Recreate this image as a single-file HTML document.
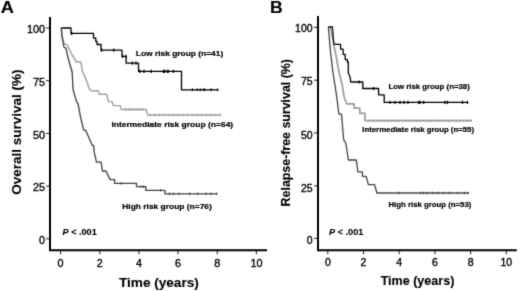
<!DOCTYPE html>
<html lang="en"><head><meta charset="utf-8"><title>Survival curves</title>
<style>html,body{margin:0;padding:0;background:#fff;}body{width:520px;height:291px;overflow:hidden;}</style>
</head><body>
<svg width="520" height="291" viewBox="0 0 520 291" style="display:block">
<defs><filter id="soft" x="0" y="0" width="520" height="291" filterUnits="userSpaceOnUse"><feConvolveMatrix order="3" kernelMatrix="0.0169 0.0962 0.0169 0.0962 0.5476 0.0962 0.0169 0.0962 0.0169" divisor="1" edgeMode="duplicate" preserveAlpha="false"/></filter></defs>
<rect width="520" height="291" fill="#fff"/>
<g filter="url(#soft)">
<path d="M50,17V250.3H267" fill="none" stroke="#000" stroke-width="2" stroke-linejoin="miter"/><path d="M60.6,251V254.2M99.8,251V254.2M138.9,251V254.2M178.0,251V254.2M217.2,251V254.2M256.4,251V254.2" stroke="#222" stroke-width="1" fill="none"/><path d="M49,28.0h-3M49,80.7h-3M49,133.4h-3M49,186.1h-3M49,238.8h-3" stroke="#222" stroke-width="1" fill="none"/>
<path d="M318,16V250.3H516.8" fill="none" stroke="#000" stroke-width="2" stroke-linejoin="miter"/><path d="M327.8,251V254.2M363.5,251V254.2M399.2,251V254.2M434.9,251V254.2M470.6,251V254.2M506.3,251V254.2" stroke="#222" stroke-width="1" fill="none"/><path d="M317,27.3h-3M317,80.2h-3M317,132.9h-3M317,185.9h-3M317,238.3h-3" stroke="#222" stroke-width="1" fill="none"/>
<g font-family="'Liberation Sans', sans-serif" font-size="10.8" fill="#000" stroke="#000" stroke-width="0.35">
<text x="60.6" y="266.7" text-anchor="middle">0</text>
<text x="99.8" y="266.7" text-anchor="middle">2</text>
<text x="138.9" y="266.7" text-anchor="middle">4</text>
<text x="178.0" y="266.7" text-anchor="middle">6</text>
<text x="217.2" y="266.7" text-anchor="middle">8</text>
<text x="256.4" y="266.7" text-anchor="middle">10</text>
<text x="45" y="33.3" text-anchor="end">100</text>
<text x="45" y="86.0" text-anchor="end">75</text>
<text x="45" y="138.7" text-anchor="end">50</text>
<text x="45" y="191.4" text-anchor="end">25</text>
<text x="45" y="244.1" text-anchor="end">0</text>
</g>
<g font-family="'Liberation Sans', sans-serif" font-size="10.5" fill="#000" stroke="#000" stroke-width="0.35">
<text x="327.8" y="265.8" text-anchor="middle">0</text>
<text x="363.5" y="265.8" text-anchor="middle">2</text>
<text x="399.2" y="265.8" text-anchor="middle">4</text>
<text x="434.9" y="265.8" text-anchor="middle">6</text>
<text x="470.6" y="265.8" text-anchor="middle">8</text>
<text x="506.3" y="265.8" text-anchor="middle">10</text>
<text x="312.6" y="32.3" text-anchor="end">100</text>
<text x="312.6" y="85.3" text-anchor="end">75</text>
<text x="312.6" y="138.6" text-anchor="end">50</text>
<text x="312.6" y="191.6" text-anchor="end">25</text>
<text x="312.6" y="244.0" text-anchor="end">0</text>
</g>
<g font-family="'Liberation Sans', sans-serif" font-weight="bold" fill="#000" stroke="#000" stroke-width="0.12">
<text transform="translate(0.7,13) scale(1.12,1)" font-size="16.3">A</text>
<text transform="translate(270,13) scale(1.08,1)" font-size="16.3">B</text>
<text x="158.9" y="287.2" font-size="13.6" text-anchor="middle">Time (years)</text>
<text x="417.5" y="285" font-size="12.55" text-anchor="middle">Time (years)</text>
<text transform="translate(21.4,132.1) rotate(-90)" font-size="13.5" text-anchor="middle">Overall survival (%)</text>
<text transform="translate(290.3,132.7) rotate(-90)" font-size="12.4" text-anchor="middle">Relapse-free survival (%)</text>
<text x="62.5" y="235.4" font-size="9.15"><tspan font-style="italic">P</tspan> &lt; .001</text>
<text x="329.1" y="235.4" font-size="9.15"><tspan font-style="italic">P</tspan> &lt; .001</text>
<g font-size="8.1" stroke="#000" stroke-width="0.22">
<text x="135.8" y="55.8" textLength="87.4" lengthAdjust="spacingAndGlyphs">Low risk group (n=41)</text>
<text x="111.4" y="127.3" textLength="121.8" lengthAdjust="spacingAndGlyphs">Intermediate risk group (n=64)</text>
<text x="122.3" y="209.2" textLength="89.5" lengthAdjust="spacingAndGlyphs">High risk group (n=76)</text>
</g>
<g font-size="7.3" stroke="#000" stroke-width="0.2">
<text x="388.4" y="89.3" textLength="81.4" lengthAdjust="spacingAndGlyphs">Low risk group (n=38)</text>
<text x="362.3" y="132.4" textLength="111.7" lengthAdjust="spacingAndGlyphs">Intermediate risk group (n=55)</text>
<text x="388.5" y="206.6" textLength="82.8" lengthAdjust="spacingAndGlyphs">High risk group (n=53)</text>
</g>
</g>
<path d="M61.3,28L62,36L64.3,44L67,44.6L72.2,55L76.5,62H80.8L82.5,71.3L86.8,81.6L87.7,83.4L88.6,87.7L91.4,90.8H98.2L99.3,94.2H106.5L108.6,101.6H112L113.4,105.6H120.2L121.3,109.4H146.1L147.8,115H220.5" fill="none" stroke="#a0a0a0" stroke-width="1.45" stroke-linejoin="round"/><path d="M125.5,108.0V110.8M128.5,108.0V110.8M131.0,108.0V110.8M134.0,108.0V110.8M137.0,108.0V110.8M140.0,108.0V110.8M143.0,108.0V110.8M150.0,113.6V116.4M154.7,113.6V116.4M159.4,113.6V116.4M164.1,113.6V116.4M168.8,113.6V116.4M173.5,113.6V116.4M178.2,113.6V116.4M182.9,113.6V116.4M187.6,113.6V116.4M192.3,113.6V116.4M197.0,113.6V116.4M201.7,113.6V116.4M206.4,113.6V116.4M211.1,113.6V116.4M215.8,113.6V116.4M220.5,113.6V116.4" fill="none" stroke="#a0a0a0" stroke-width="1.0"/>
<path d="M61.3,28L61.9,36L63.9,47L66,48.4L67.4,55L70.1,65L72.2,72.2L73,89.4L76.5,101.4L78,103.6L80.6,117.3L83.7,130.2L85.8,130.5L92.2,145.3H93.5L94.2,152.2L96.5,162.1H101.1L102.5,171H105.9L110.2,179.6H114.6V183.4H136.5V186.6H145.8V190.3H165V193.8H217.3" fill="none" stroke="#444" stroke-width="1.35" stroke-linejoin="round"/><path d="M121.5,182.1V184.7M141.0,185.3V187.9M143.5,185.3V187.9M160.8,189.0V191.6M169.5,192.5V195.1M173.5,192.5V195.1M178.8,192.5V195.1M189.6,192.5V195.1M197.7,192.5V195.1M205.8,192.5V195.1M211.0,192.5V195.1M216.6,192.5V195.1" fill="none" stroke="#444" stroke-width="1.0"/>
<path d="M61.3,28H71V33.3H93.5V38.2H95.8V41.4H97V44.5H101V50.2H122V56.3H126.1V63.2H138.5V71.4H181.5V89.8H218.2" fill="none" stroke="#000" stroke-width="1.3" stroke-linejoin="round"/><path d="M71.6,31.7V34.9M101.6,48.6V51.8M113.8,48.6V51.8M122.6,54.7V57.9M126.0,54.7V57.9M132.3,61.6V64.8M136.0,61.6V64.8M139.9,69.8V73.0M144.0,69.8V73.0M151.2,69.8V73.0M163.5,69.8V73.0M164.6,69.8V73.0M167.4,69.8V73.0M168.2,69.8V73.0M173.4,69.8V73.0M192.5,88.5V91.1M197.3,88.5V91.1M200.3,88.5V91.1M203.6,88.5V91.1M204.6,88.5V91.1M211.2,88.5V91.1M217.6,88.5V91.1" fill="none" stroke="#000" stroke-width="1.3"/>
<path d="M330.5,27L333.8,45L336.3,57L338,67.2L339.7,75L342.3,85.2L344,96.5L346.6,103.8H354V108.1H359.8V113.3H365V120.7H472" fill="none" stroke="#9c9c9c" stroke-width="1.7" stroke-linejoin="round"/><path d="M370.0,119.4V122.0M373.6,119.4V122.0M377.2,119.4V122.0M380.8,119.4V122.0M384.4,119.4V122.0M388.0,119.4V122.0M391.6,119.4V122.0M395.2,119.4V122.0M398.8,119.4V122.0M402.4,119.4V122.0M406.0,119.4V122.0M409.6,119.4V122.0M413.2,119.4V122.0M416.8,119.4V122.0M420.4,119.4V122.0M424.0,119.4V122.0M427.6,119.4V122.0M431.2,119.4V122.0M434.8,119.4V122.0M438.4,119.4V122.0M442.0,119.4V122.0M445.6,119.4V122.0M449.2,119.4V122.0M452.8,119.4V122.0M456.4,119.4V122.0M460.0,119.4V122.0M463.6,119.4V122.0M467.2,119.4V122.0M470.8,119.4V122.0" fill="none" stroke="#9c9c9c" stroke-width="1.1"/>
<path d="M328.4,27L330.3,50L332.8,71.3L336.5,95L338.9,114.2H341.5L343.6,139.3L346,144L348.3,160H356.3L358,171.8H362.4V176.3H366.2L368.4,184.6H374.6L376.9,193H468.8" fill="none" stroke="#444" stroke-width="1.3" stroke-linejoin="round"/><path d="M398.8,191.7V194.3M420.3,191.7V194.3M423.5,191.7V194.3M427.2,191.7V194.3M432.8,191.7V194.3M438.0,191.7V194.3M443.4,191.7V194.3M449.6,191.7V194.3M457.7,191.7V194.3M464.6,191.7V194.3M468.3,191.7V194.3" fill="none" stroke="#444" stroke-width="1.0"/>
<path d="M328.2,27H332.4L333.1,36L334,44.4H340.6V49.2H343.1V54.3H345.2V59.6H347.4V62H348.3V73L350,76.8L350.8,82H362.8V88.5H378.6V94.8H384.2V102.4H468" fill="none" stroke="#000" stroke-width="1.3" stroke-linejoin="round"/><path d="M359.0,80.4V83.6M373.6,86.9V90.1M390.0,100.8V104.0M395.0,100.8V104.0M400.0,100.8V104.0M404.0,100.8V104.0M408.0,100.8V104.0M418.7,100.8V104.0M420.2,100.8V104.0M423.7,100.8V104.0M445.0,100.8V104.0M447.5,100.8V104.0M462.5,100.8V104.0M467.5,100.8V104.0" fill="none" stroke="#000" stroke-width="1.25"/>
</g>
</svg>
</body></html>
